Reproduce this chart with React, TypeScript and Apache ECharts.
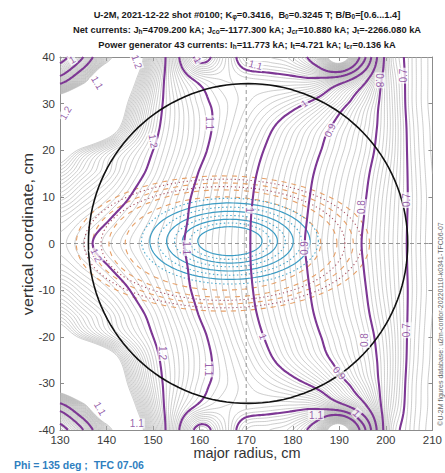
import React, { useEffect, useRef } from "react";
import * as echarts from "echarts";

// ---------- data ----------
const R_NODES = [130, 135, 140, 145, 150, 155, 160, 165, 170, 175, 180, 185, 190, 195, 200, 205, 210];
const Z_NODES = [-40, -35, -30, -25, -20, -15, -10, -5, 0, 5, 10, 15, 20, 25, 30, 35, 40];

// B/B0 estimated at grid nodes, one row per Z value
const bZm40 = [0.97, 1.1, 1.35, 1.5, 1.3, 1.12, 0.98, 1.05, 1.13, 1.14, 1.16, 1.25, 1.5, 1.15, 0.77, 0.682, 0.643];
const bZm35 = [1.15, 1.35, 1.6, 1.45, 1.26, 1.15, 1.09, 1.07, 1.075, 1.08, 1.085, 1.085, 1.04, 0.93, 0.772, 0.686, 0.645];
const bZm30 = [1.55, 1.7, 1.6, 1.38, 1.235, 1.165, 1.115, 1.085, 1.062, 1.041, 1.017, 0.982, 0.925, 0.855, 0.775, 0.688, 0.645];
const bZm25 = [1.6, 1.62, 1.5, 1.33, 1.22, 1.165, 1.12, 1.083, 1.047, 1.008, 0.968, 0.927, 0.883, 0.835, 0.775, 0.692, 0.647];
const bZm20 = [1.45, 1.38, 1.31, 1.25, 1.2, 1.156, 1.113, 1.072, 1.03, 0.99, 0.95, 0.909, 0.868, 0.826, 0.77, 0.694, 0.648];
const bZm15 = [1.37, 1.32, 1.275, 1.225, 1.185, 1.14, 1.097, 1.058, 1.018, 0.978, 0.937, 0.896, 0.856, 0.815, 0.76, 0.696, 0.65];
const bZm10 = [1.31, 1.27, 1.235, 1.2, 1.162, 1.122, 1.087, 1.05, 1.012, 0.97, 0.93, 0.889, 0.848, 0.808, 0.752, 0.697, 0.652];
const bZm5 = [1.255, 1.228, 1.203, 1.175, 1.145, 1.115, 1.083, 1.046, 1.008, 0.967, 0.925, 0.884, 0.843, 0.802, 0.748, 0.696, 0.651];
const bZ0 = [1.235, 1.21, 1.185, 1.16, 1.135, 1.11, 1.079, 1.043, 1.007, 0.966, 0.922, 0.88, 0.839, 0.798, 0.746, 0.695, 0.65];
const bZ5 = [1.255, 1.228, 1.203, 1.175, 1.145, 1.115, 1.083, 1.046, 1.008, 0.967, 0.925, 0.884, 0.843, 0.802, 0.748, 0.696, 0.651];
const bZ10 = [1.31, 1.27, 1.235, 1.2, 1.162, 1.122, 1.087, 1.05, 1.012, 0.97, 0.93, 0.889, 0.848, 0.808, 0.752, 0.697, 0.652];
const bZ15 = [1.37, 1.32, 1.275, 1.225, 1.185, 1.14, 1.097, 1.058, 1.018, 0.978, 0.937, 0.896, 0.856, 0.815, 0.76, 0.696, 0.65];
const bZ20 = [1.45, 1.38, 1.31, 1.25, 1.2, 1.156, 1.113, 1.072, 1.03, 0.99, 0.95, 0.909, 0.868, 0.826, 0.77, 0.694, 0.648];
const bZ25 = [1.6, 1.62, 1.5, 1.33, 1.22, 1.165, 1.12, 1.083, 1.047, 1.008, 0.968, 0.927, 0.883, 0.835, 0.775, 0.692, 0.647];
const bZ30 = [1.55, 1.7, 1.6, 1.38, 1.235, 1.165, 1.115, 1.085, 1.062, 1.041, 1.017, 0.982, 0.925, 0.855, 0.775, 0.688, 0.645];
const bZ35 = [1.15, 1.35, 1.6, 1.45, 1.26, 1.15, 1.09, 1.07, 1.075, 1.08, 1.085, 1.085, 1.04, 0.93, 0.775, 0.688, 0.645];
const bZ40 = [0.97, 1.1, 1.35, 1.5, 1.3, 1.12, 0.98, 1.05, 1.13, 1.14, 1.16, 1.25, 1.5, 1.15, 0.78, 0.688, 0.645];
const B_FIELD = [bZm40, bZm35, bZm30, bZm25, bZm20, bZm15, bZm10, bZm5, bZ0, bZ5, bZ10, bZ15, bZ20, bZ25, bZ30, bZ35, bZ40];

// contour levels: range shown B/B0 = [0.6 ... 1.4]
const LEVEL_MIN = 0.6;
const LEVEL_MAX = 1.4;
const THIN_STEP = 0.01;
const BOLD_LEVELS = [0.7, 0.8, 0.9, 1.0, 1.1, 1.2];

// inline labels of the bold contours: [R, Z, text, angle]
const CONTOUR_LABELS: [number, number, string, number][] = [
  [137.8, -2.5, "1.2", -65],
  [150, 22, "1.2", -80],
  [152, -23.5, "1.2", -90],
  [157.2, -1, "1.1", -90],
  [162.2, 25.8, "1.1", -90],
  [161.8, -27, "1.1", -90],
  [170.8, 7.2, "1", -90],
  [182.5, 30, "1", 35],
  [173.6, -20, "1", -70],
  [188, 24.3, "0.9", 65],
  [182.6, -1, "0.9", 90],
  [190, -27.8, "0.9", -50],
  [198.7, 35, "0.8", -90],
  [194.8, 7.8, "0.8", 90],
  [195.5, -20.7, "0.8", 90],
  [203.7, 36, "0.7", 90],
  [204.5, 9.3, "0.7", 90],
  [204.5, -18.6, "0.7", 90],
  [185, -36.8, "1.1", 0],
  [172, 38.3, "1.1", -15],
  [159.6, 39.3, "1", -60],
  [131.2, 28, "1.2", 60],
  [132.6, 39.4, "1", 30],
  [146.5, 39, "1.2", -70],
  [138, 34.5, "1.1", -60],
  [138.6, -35.4, "1.1", -60],
  [146.5, -38.6, "1.1", 0],
  [193.7, -36.4, "1", -45],
];

// vacuum chamber
const CHAMBER_CENTER: [number, number] = [170.4, 0];
const CHAMBER_RADIUS = 34.3;

// magnetic surfaces (semi-axes in cm)
const CYAN_CENTER: [number, number] = [166.5, 0.5];
const CYAN_A = [6.9, 8.6, 10.2, 11.9, 13.6, 15.4, 17.2, 19];
const CYAN_B = [3.1, 3.9, 4.7, 5.5, 6.4, 7.3, 8.2, 9.2];
const ORANGE_CENTER: [number, number] = [165, 0];
const ORANGE_A = [21, 24.5, 28, 31.5];
const ORANGE_B = [10, 11.5, 13, 14.5];
const DARK_A = [26.2, 29.8];
const DARK_B = [12.2, 13.8];

const TITLE_LINES = [
  "U-2M, 2021-12-22 shot #0100; K{s|φ}=0.3416,  B{s|0}=0.3245 T; B/B{s|0}=[0.6...1.4]",
  "Net currents: J{s|h}=4709.200 kA; J{s|co}=-1177.300 kA; J{s|cr}=10.880 kA; J{s|t}=-2266.080 kA",
  "Power generator 43 currents: I{s|h}=11.773 kA; I{s|t}=4.721 kA; I{s|cr}=0.136 kA",
];
const X_NAME = "major radius, cm";
const Y_NAME = "vertical coordinate, cm";
const FOOTER = "Phi = 135 deg ;  TFC 07-06";
const COPYRIGHT = "©U-2M figures database: u2m-contor-20220110-k0341-TFC06-07";

// ---------- contour machinery ----------
function cr(p0: number, p1: number, p2: number, p3: number, t: number) {
  return 0.5 * (2 * p1 + (-p0 + p2) * t + (2 * p0 - 5 * p1 + 4 * p2 - p3) * t * t + (-p0 + 3 * p1 - 3 * p2 + p3) * t * t * t);
}

function sampleField(r: number, z: number) {
  const nR = R_NODES.length, nZ = Z_NODES.length;
  const dR = R_NODES[1] - R_NODES[0], dZ = Z_NODES[1] - Z_NODES[0];
  const fx = (r - R_NODES[0]) / dR, fz = (z - Z_NODES[0]) / dZ;
  let i = Math.floor(fx), j = Math.floor(fz);
  if (i > nR - 2) i = nR - 2; if (i < 0) i = 0;
  if (j > nZ - 2) j = nZ - 2; if (j < 0) j = 0;
  const t = fx - i, u = fz - j;
  const ci = (k: number) => Math.min(Math.max(k, 0), nR - 1);
  const cj = (k: number) => Math.min(Math.max(k, 0), nZ - 1);
  const rows: number[] = [];
  for (let m = -1; m <= 2; m++) {
    const row = B_FIELD[cj(j + m)];
    rows.push(cr(row[ci(i - 1)], row[ci(i)], row[ci(i + 1)], row[ci(i + 2)], t));
  }
  return cr(rows[0], rows[1], rows[2], rows[3], u);
}

function buildFine(step: number) {
  const xs: number[] = [], ys: number[] = [];
  const r0 = R_NODES[0], r1 = R_NODES[R_NODES.length - 1];
  const z0 = Z_NODES[0], z1 = Z_NODES[Z_NODES.length - 1];
  const nx = Math.round((r1 - r0) / step) + 1, ny = Math.round((z1 - z0) / step) + 1;
  for (let i = 0; i < nx; i++) xs.push(r0 + i * step);
  for (let j = 0; j < ny; j++) ys.push(z0 + j * step);
  const V: number[][] = [];
  for (let j = 0; j < ny; j++) {
    const row: number[] = [];
    for (let i = 0; i < nx; i++) row.push(sampleField(xs[i], ys[j]));
    V.push(row);
  }
  return { xs, ys, V };
}

function contour(xs: number[], ys: number[], V: number[][], level: number): number[][][] {
  const nx = xs.length, ny = ys.length;
  const segs: [number, number][] = [];
  const add = (a: number, b: number) => segs.push([a, b]);
  for (let j = 0; j < ny - 1; j++) {
    for (let i = 0; i < nx - 1; i++) {
      const v0 = V[j][i], v1 = V[j][i + 1], v2 = V[j + 1][i + 1], v3 = V[j + 1][i];
      const c = (v0 > level ? 1 : 0) | (v1 > level ? 2 : 0) | (v2 > level ? 4 : 0) | (v3 > level ? 8 : 0);
      if (c === 0 || c === 15) continue;
      const eB = (j * nx + i) * 2;
      const eT = ((j + 1) * nx + i) * 2;
      const eL = (j * nx + i) * 2 + 1;
      const eR = (j * nx + i + 1) * 2 + 1;
      switch (c) {
        case 1: case 14: add(eL, eB); break;
        case 2: case 13: add(eB, eR); break;
        case 3: case 12: add(eL, eR); break;
        case 4: case 11: add(eR, eT); break;
        case 6: case 9: add(eB, eT); break;
        case 7: case 8: add(eL, eT); break;
        case 5: {
          const avg = (v0 + v1 + v2 + v3) / 4;
          if (avg > level) { add(eL, eT); add(eB, eR); } else { add(eL, eB); add(eR, eT); }
          break;
        }
        case 10: {
          const avg = (v0 + v1 + v2 + v3) / 4;
          if (avg > level) { add(eL, eB); add(eR, eT); } else { add(eL, eT); add(eB, eR); }
          break;
        }
      }
    }
  }
  const pt = (id: number): number[] => {
    const k = id >> 1;
    const i = k % nx, j = Math.floor(k / nx);
    if ((id & 1) === 0) {
      const a = V[j][i], b = V[j][i + 1];
      const t = (level - a) / (b - a);
      return [xs[i] + t * (xs[i + 1] - xs[i]), ys[j]];
    }
    const a = V[j][i], b = V[j + 1][i];
    const t = (level - a) / (b - a);
    return [xs[i], ys[j] + t * (ys[j + 1] - ys[j])];
  };
  const adj = new Map<number, number[]>();
  segs.forEach((s, k) => {
    for (const e of s) {
      let l = adj.get(e);
      if (!l) { l = []; adj.set(e, l); }
      l.push(k);
    }
  });
  const used = new Uint8Array(segs.length);
  const chains: number[][][] = [];
  const walk = (start: number, out: number[]) => {
    let cur = start;
    for (;;) {
      const l = adj.get(cur)!;
      let next = -1;
      for (const m of l) if (!used[m]) { next = m; break; }
      if (next < 0) break;
      used[next] = 1;
      const s = segs[next];
      const other = s[0] === cur ? s[1] : s[0];
      out.push(other);
      cur = other;
    }
  };
  for (let k = 0; k < segs.length; k++) {
    if (used[k]) continue;
    used[k] = 1;
    const fwd: number[] = [];
    const back: number[] = [];
    walk(segs[k][1], fwd);
    walk(segs[k][0], back);
    const ids = back.reverse().concat([segs[k][0], segs[k][1]], fwd);
    chains.push(ids.map(pt));
  }
  return chains;
}

function ellipse(c: [number, number], a: number, b: number) {
  const pts: number[][] = [];
  const n = 140;
  for (let k = 0; k <= n; k++) {
    const t = (k / n) * Math.PI * 2;
    pts.push([c[0] + a * Math.cos(t), c[1] + b * Math.sin(t)]);
  }
  return pts;
}

const FONT = "'Liberation Sans', Arial, Helvetica, sans-serif";
const PURPLE = "#7d3794";

export default function App() {
  const ref = useRef<HTMLDivElement>(null);
  useEffect(() => {
    const chart = echarts.init(ref.current!, undefined, { renderer: "svg" });
    const { xs, ys, V } = buildFine(0.4);

    const thinData: any[] = [];
    const nLevels = Math.round((LEVEL_MAX - LEVEL_MIN) / THIN_STEP);
    for (let k = 0; k <= nLevels; k++) {
      const lv = Math.round((LEVEL_MIN + k * THIN_STEP) * 1000) / 1000;
      if (BOLD_LEVELS.some((b) => Math.abs(b - lv) < 1e-6)) continue;
      for (const ch of contour(xs, ys, V, lv)) if (ch.length > 1) thinData.push({ coords: ch });
    }
    const boldData: any[] = [];
    for (const lv of BOLD_LEVELS) {
      for (const ch of contour(xs, ys, V, lv)) if (ch.length > 1) boldData.push({ coords: ch });
    }

    const cyanSolid: any[] = [], cyanDot: any[] = [];
    CYAN_A.forEach((a, k) => {
      (k % 2 === 0 ? cyanSolid : cyanDot).push({ coords: ellipse(CYAN_CENTER, a, CYAN_B[k]) });
    });
    const orangeData = ORANGE_A.map((a, k) => ({ coords: ellipse(ORANGE_CENTER, a, ORANGE_B[k]) }));
    const darkData = DARK_A.map((a, k) => ({ coords: ellipse(ORANGE_CENTER, a, DARK_B[k]) }));
    const chamber = ellipse(CHAMBER_CENTER, CHAMBER_RADIUS, CHAMBER_RADIUS);

    const axisCommon = {
      type: "value" as const,
      axisLine: { show: true, onZero: false, lineStyle: { color: "#8c8c8c", width: 1 } },
      axisTick: { show: true, inside: true, length: 4, lineStyle: { color: "#8c8c8c" } },
      splitLine: { show: false },
    };

    const titleRich = {
      s: { fontSize: 6.5, fontWeight: "bold", fontFamily: FONT, fill: "#1a1a1a", verticalAlign: "bottom", lineHeight: 9 },
    };

    const option: any = {
      animation: false,
      textStyle: { fontFamily: FONT },
      grid: { left: 60, top: 57, width: 373, height: 373, containLabel: false },
      xAxis: [
        { ...axisCommon, min: 130, max: 210, interval: 10, position: "bottom",
          axisLabel: { color: "#3a3a3a", fontSize: 11.5, margin: 4, fontFamily: FONT } },
        { ...axisCommon, min: 130, max: 210, interval: 10, position: "top", axisLabel: { show: false } },
      ],
      yAxis: [
        { ...axisCommon, min: -40, max: 40, interval: 10, position: "left",
          axisLabel: { color: "#3a3a3a", fontSize: 11.5, margin: 5, fontFamily: FONT } },
        { ...axisCommon, min: -40, max: 40, interval: 10, position: "right", axisLabel: { show: false } },
      ],
      series: [
        { type: "lines", coordinateSystem: "cartesian2d", polyline: true, silent: true, z: 1,
          lineStyle: { color: "#b2b2b2", width: 0.65, opacity: 1 }, data: thinData },
        { type: "lines", coordinateSystem: "cartesian2d", polyline: true, silent: true, z: 2,
          lineStyle: { color: "#8a8a8a", width: 0.9, type: [4, 3], opacity: 1 },
          data: [ { coords: [[170, -40], [170, 40]] }, { coords: [[130, 0], [210, 0]] } ] },
        { type: "lines", coordinateSystem: "cartesian2d", polyline: true, silent: true, z: 3,
          lineStyle: { color: "#e6a068", width: 1.1, type: [5, 5], opacity: 1 }, data: orangeData },
        { type: "lines", coordinateSystem: "cartesian2d", polyline: true, silent: true, z: 3,
          lineStyle: { color: "#a85060", width: 1.1, type: [1.2, 2.8], opacity: 1 }, data: darkData },
        { type: "lines", coordinateSystem: "cartesian2d", polyline: true, silent: true, z: 3,
          lineStyle: { color: "#3b9cc4", width: 1.2, opacity: 1 }, data: cyanSolid },
        { type: "lines", coordinateSystem: "cartesian2d", polyline: true, silent: true, z: 3,
          lineStyle: { color: "#4aa8cc", width: 1.1, type: [1.5, 2.5], opacity: 1 }, data: cyanDot },
        { type: "lines", coordinateSystem: "cartesian2d", polyline: true, silent: true, z: 4,
          lineStyle: { color: PURPLE, width: 2.1, opacity: 1 }, data: boldData },
        { type: "lines", coordinateSystem: "cartesian2d", polyline: true, silent: true, z: 5,
          lineStyle: { color: "#111", width: 1.6, opacity: 1 }, data: [{ coords: chamber }] },
        { type: "scatter", silent: true, z: 6, symbolSize: 0,
          data: CONTOUR_LABELS.map(([r, z, t, ang]) => ({
            value: [r, z],
            label: { show: true, position: "inside", formatter: t, rotate: ang, color: PURPLE,
              fontSize: 10, fontFamily: FONT, backgroundColor: "rgba(255,255,255,0.9)", padding: [0, 1] },
          })) },
      ],
      graphic: [
        ...TITLE_LINES.map((t, k) => ({
          type: "text", x: 247, y: 15 + k * 15, silent: true,
          style: { text: t, fill: "#1a1a1a", fontSize: 9.3, fontWeight: "bold", fontFamily: FONT,
            align: "center", verticalAlign: "middle", rich: titleRich },
        })),
        { type: "text", x: 247, y: 453, silent: true,
          style: { text: X_NAME, fill: "#333", fontSize: 14.5, fontFamily: FONT, align: "center", verticalAlign: "middle" } },
        { type: "text", x: 28, y: 234, rotation: Math.PI / 2, scaleX: 1.12, silent: true,
          style: { text: Y_NAME, fill: "#333", fontSize: 14.5, fontFamily: FONT, align: "center", verticalAlign: "middle" } },
        { type: "text", x: 14, y: 465, silent: true,
          style: { text: FOOTER, fill: "#2f7fbf", fontSize: 10.5, fontWeight: "bold", fontFamily: FONT, align: "left", verticalAlign: "middle" } },
        { type: "text", x: 440, y: 324, rotation: Math.PI / 2, silent: true,
          style: { text: COPYRIGHT, fill: "#666", fontSize: 7, fontFamily: FONT, align: "center", verticalAlign: "middle" } },
      ],
    };
    chart.setOption(option);
    return () => chart.dispose();
  }, []);
  return (
    <div
      ref={ref}
      style={{ position: "fixed", left: 0, top: 0, width: 445, height: 473, background: "#fff" }}
    />
  );
}
